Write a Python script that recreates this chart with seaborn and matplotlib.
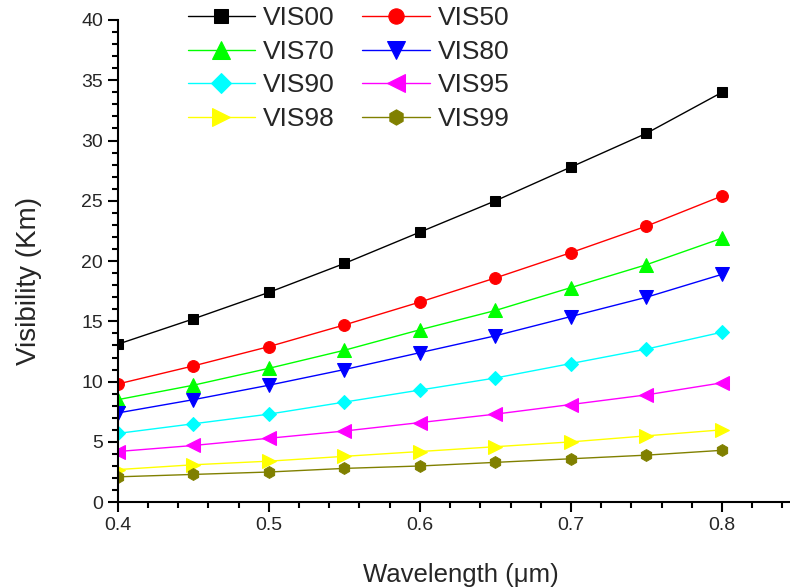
import numpy as np
import pandas as pd
import seaborn as sns
import matplotlib
matplotlib.use("Agg")
import matplotlib.pyplot as plt
from matplotlib.ticker import MultipleLocator

wavelength = [0.40, 0.45, 0.50, 0.55, 0.60, 0.65, 0.70, 0.75, 0.80]
series_names = ["VIS00", "VIS50", "VIS70", "VIS80", "VIS90", "VIS95", "VIS98", "VIS99"]
vis00 = [13.1, 15.2, 17.4, 19.8, 22.4, 25.0, 27.8, 30.6, 34.0]
vis50 = [9.8, 11.3, 12.9, 14.7, 16.6, 18.6, 20.7, 22.9, 25.4]
vis70 = [8.5, 9.7, 11.1, 12.6, 14.3, 15.9, 17.8, 19.7, 21.9]
vis80 = [7.4, 8.5, 9.7, 11.0, 12.4, 13.8, 15.4, 17.0, 18.9]
vis90 = [5.7, 6.5, 7.3, 8.3, 9.3, 10.3, 11.5, 12.7, 14.1]
vis95 = [4.2, 4.7, 5.3, 5.9, 6.6, 7.3, 8.1, 8.9, 9.9]
vis98 = [2.7, 3.1, 3.4, 3.8, 4.2, 4.6, 5.0, 5.5, 6.0]
vis99 = [2.1, 2.3, 2.5, 2.8, 3.0, 3.3, 3.6, 3.9, 4.3]
values = [vis00, vis50, vis70, vis80, vis90, vis95, vis98, vis99]

colors = ["#000000", "#ff0000", "#00ff00", "#0000ff", "#00ffff", "#ff00ff", "#ffff00", "#808000"]
markers = ["s", "o", "^", "v", "D", "<", ">", "h"]
msizes = [7.5, 8.5, 9.5, 9.5, 7.5, 9.5, 9.5, 8.5]

df = pd.DataFrame({
    "Wavelength": np.tile(wavelength, len(series_names)),
    "Visibility": np.concatenate(values),
    "Series": np.repeat(series_names, len(wavelength)),
})

sns.set_style("ticks")
plt.rcParams["font.family"] = ["Liberation Sans", "DejaVu Sans"]

fig = plt.figure(figsize=(7.9, 5.88), dpi=100)
ax = fig.add_axes([0.149, 0.146, 0.851, 0.82])

handles = {}
for name, vals, c, m, ms in zip(series_names, values, colors, markers, msizes):
    sub = df[df["Series"] == name]
    sns.lineplot(data=sub, x="Wavelength", y="Visibility", ax=ax, color=c,
                 marker=m, markersize=ms, markeredgecolor=c, linewidth=1.0,
                 label=name, legend=False)
    handles[name] = ax.lines[-1]

ax.set_xlim(0.4, 0.845)
ax.set_ylim(0, 40)
ax.xaxis.set_major_locator(MultipleLocator(0.1))
ax.xaxis.set_minor_locator(MultipleLocator(0.02))
ax.yaxis.set_major_locator(MultipleLocator(5))
ax.yaxis.set_minor_locator(MultipleLocator(1))
ax.tick_params(which="major", length=7, width=1.5, labelsize=14, direction="out", color="black")
ax.tick_params(which="minor", length=4, width=1.5, direction="out", color="black")
ax.xaxis.set_major_formatter(matplotlib.ticker.FuncFormatter(lambda v, p: f"{v:.1f}"))
for s in ["top", "right"]:
    ax.spines[s].set_visible(False)
for s in ["left", "bottom"]:
    ax.spines[s].set_linewidth(1.5)
    ax.spines[s].set_color("black")

ax.set_xlabel("Wavelength (\u03bcm)", fontsize=18.5, labelpad=21, x=0.51)
ax.set_ylabel("Visibility (Km)", fontsize=20, labelpad=28, y=0.459)

order = ["VIS00", "VIS70", "VIS90", "VIS98", "VIS50", "VIS80", "VIS95", "VIS99"]
ax.legend([handles[n] for n in order], order, ncol=2, frameon=False,
          loc="upper left", bbox_to_anchor=(0.104, 1.028), fontsize=19,
          borderpad=0, borderaxespad=0, markerscale=1.3,
          handlelength=2.55, columnspacing=1.05, labelspacing=0.36, handletextpad=0.3)

fig.savefig("out.png", dpi=100)
